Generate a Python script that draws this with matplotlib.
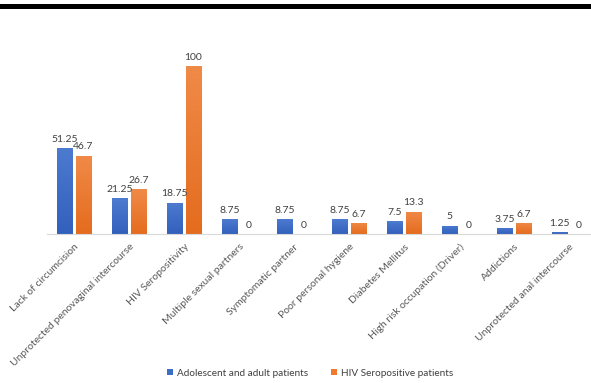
import numpy as np
import matplotlib
matplotlib.use('Agg')
import matplotlib.pyplot as plt
from matplotlib.patches import Rectangle
from matplotlib.colors import LinearSegmentedColormap

plt.rcParams['font.family'] = ['Lato', 'DejaVu Sans']

categories = ['Lack of circumcision', 'Unprotected penovaginal intercourse', 'HIV Seropositivity',
              'Multiple sexual partners', 'Symptomatic partner', 'Poor personal hygiene',
              'Diabetes Mellitus', 'High risk occupation (Driver)', 'Addictions',
              'Unprotected anal intercourse']
adult_vals = [51.25, 21.25, 18.75, 8.75, 8.75, 8.75, 7.5, 5, 3.75, 1.25]
hiv_vals = [46.7, 26.7, 100, 0, 0, 6.7, 13.3, 0, 6.7, 0]
adult_labels = ['51.25', '21.25', '18.75', '8.75', '8.75', '8.75', '7.5', '5', '3.75', '1.25']
hiv_labels = ['46.7', '26.7', '100', '0', '0', '6.7', '13.3', '0', '6.7', '0']

txt = '#404040'
blue_cmap = LinearSegmentedColormap.from_list('b', ['#3260BC', '#4D7BD0'])
orange_cmap = LinearSegmentedColormap.from_list('o', ['#E46C1E', '#F08A48'])

fig = plt.figure(figsize=(5.91, 3.83), dpi=100)
ax = fig.add_axes([47 / 591, 1 - 234 / 383, 1 - 47 / 591, 194 / 383])

x = np.arange(len(categories))
w = 0.28
off = 0.17
b1 = ax.bar(x - off, adult_vals, w, color='#3E6DC8', label='Adolescent and adult patients')
b2 = ax.bar(x + off, hiv_vals, w, color='#EE7A2E', label='HIV Seropositive patients')

# vertical shading inside each bar
grad = np.linspace(0, 1, 100).reshape(-1, 1)
for bars, cmap in [(b1, blue_cmap), (b2, orange_cmap)]:
    for r in bars:
        h = r.get_height()
        if h <= 0:
            continue
        x0 = r.get_x()
        im = ax.imshow(grad, cmap=cmap, origin='lower', aspect='auto',
                       extent=[x0, x0 + r.get_width(), 0, h], zorder=r.get_zorder() + 0.1)
        im.set_clip_path(r)

for i in range(len(categories)):
    ax.annotate(adult_labels[i], (x[i] - off, adult_vals[i]), xytext=(0, 3),
                textcoords='offset points', ha='center', va='bottom', fontsize=7.5, color=txt)
    ax.annotate(hiv_labels[i], (x[i] + off, hiv_vals[i]), xytext=(0, 3),
                textcoords='offset points', ha='center', va='bottom', fontsize=7.5, color=txt)

ax.set_xlim(-0.49, 9.4)
ax.set_ylim(0, 115.5)
ax.set_xticks(x)
ax.set_xticklabels(categories, rotation=45, ha='right', rotation_mode='anchor',
                   fontsize=7.5, color='#595959')
ax.tick_params(axis='x', length=0, pad=6)
ax.set_yticks([])
for s in ['top', 'right', 'left']:
    ax.spines[s].set_visible(False)
ax.spines['bottom'].set_color('#d9d9d9')

fig.legend(loc='center', bbox_to_anchor=(310 / 591, 1 - 373 / 383), ncol=2, frameon=False,
           fontsize=7.2, handlelength=0.6, handleheight=0.6, columnspacing=2.3,
           handletextpad=0.4, labelcolor=txt)

# heavy rule across the top
fig.add_artist(Rectangle((0, 1 - 9 / 383), 1, 4.5 / 383, transform=fig.transFigure,
                         color='black', lw=0))

fig.savefig('out.png', dpi=100)
